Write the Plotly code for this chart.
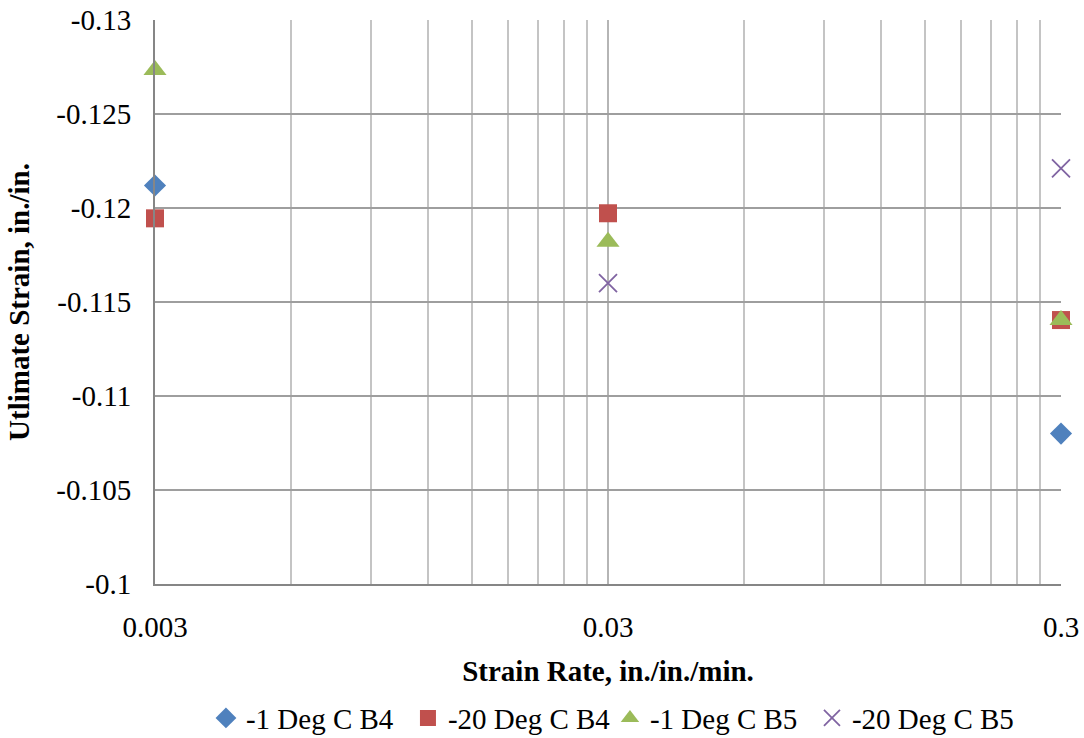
import math
import plotly.graph_objects as go

# Strain rates (in./in./min.)
strain_rate = [0.003, 0.03, 0.3]

# Ultimate strain (in./in.) per test series; None where no value was recorded
b4_minus1 = [-0.1212, None, -0.1080]
b4_minus20 = [-0.11945, -0.11972, -0.11404]
b5_minus1 = [-0.12734, -0.11821, -0.11404]
b5_minus20 = [None, -0.1160, -0.12211]

x_ticks = [0.003, 0.03, 0.3]
x_tick_text = ["0.003", "0.03", "0.3"]
y_ticks = [-0.1, -0.105, -0.11, -0.115, -0.12, -0.125, -0.13]
y_tick_text = ["-0.1", "-0.105", "-0.11", "-0.115", "-0.12", "-0.125", "-0.13"]

# minor log gridlines at 2..9 times each decade start
minor_vals = [base * k for base in (0.003, 0.03) for k in range(2, 10)]

FONT = "Liberation Serif, Times New Roman, serif"
FS = 29

series = [
    ("-1 Deg C B4", b4_minus1, dict(symbol="diamond", size=17, color="#4F81BD")),
    ("-20 Deg C B4", b4_minus20, dict(symbol="square", size=18, color="#C0504D")),
    ("-1 Deg C B5", b5_minus1, dict(symbol="triangle-up", size=20, color="#9BBB59")),
    ("-20 Deg C B5", b5_minus20, dict(symbol="x-thin-open", size=18, color="#8064A2",
                                       line=dict(color="#8064A2", width=1.8))),
]

fig = go.Figure()
for name, vals, marker in series:
    fig.add_trace(go.Scatter(
        x=strain_rate, y=vals, mode="markers", name=name,
        marker=marker, cliponaxis=False,
    ))

fig.update_layout(
    width=1084, height=738,
    margin=dict(l=155, r=23, t=20, b=154),
    paper_bgcolor="white", plot_bgcolor="white",
    font=dict(family=FONT, size=FS, color="black"),
    showlegend=True,
    legend=dict(
        orientation="h", xref="container", yref="container",
        x=0.190, xanchor="left", y=0.027, yanchor="middle",
        font=dict(family=FONT, size=FS), itemwidth=30, tracegroupgap=0,
        entrywidth=157, entrywidthmode="pixels",
        bgcolor="rgba(0,0,0,0)",
    ),
    xaxis=dict(
        type="log", automargin=False,
        range=[math.log10(0.003), math.log10(0.3)],
        tickmode="array", tickvals=x_ticks, ticktext=x_tick_text,
        showgrid=True, gridcolor="#B5B5B5", gridwidth=2,
        minor=dict(tickmode="array", tickvals=minor_vals, showgrid=True,
                   gridcolor="#C4C4C4", gridwidth=2, ticks=""),
        showline=True, linecolor="#868686", linewidth=2,
        ticks="", ticklabelstandoff=16,
        title=dict(text="<b>Strain Rate, in./in./min.</b>", standoff=19,
                   font=dict(family=FONT, size=FS)),
        zeroline=False,
    ),
    yaxis=dict(
        automargin=False,
        range=[-0.1, -0.13],
        tickmode="array", tickvals=y_ticks, ticktext=y_tick_text,
        showgrid=True, gridcolor="#9E9E9E", gridwidth=2,
        showline=True, linecolor="#868686", linewidth=2,
        ticks="", ticklabelstandoff=16,
        title=dict(text="<b>Utlimate Strain, in./in.</b>", standoff=18,
                   font=dict(family=FONT, size=FS)),
        zeroline=False,
    ),
)

fig.write_html("out.html")
